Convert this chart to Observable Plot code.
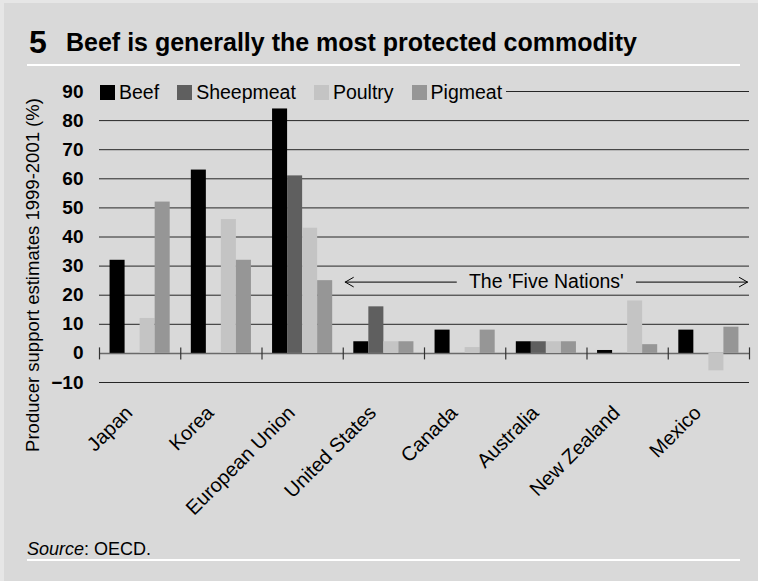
<!DOCTYPE html>
<html>
<head>
<meta charset="utf-8">
<script src="https://cdn.jsdelivr.net/npm/d3@7"></script>
<script src="https://cdn.jsdelivr.net/npm/@observablehq/plot@0.6"></script>
<style>
  html, body { margin: 0; padding: 0; background: #e6e6e6; }
  #page { position: relative; width: 758px; height: 581px; overflow: hidden; font-family: "Liberation Sans", Arial, sans-serif; }
  #panel { position: absolute; left: 4px; top: 3px; width: 754px; height: 578px; background: #d9d9d9; }
  .abs { position: absolute; white-space: nowrap; line-height: 1; }
  .wline { position: absolute; height: 2px; background: #ffffff; }
  #legend { position: absolute; left: 99px; top: 82px; height: 20px; display: flex; align-items: center; background: #d9d9d9; padding-right: 4px; padding-left: 1px; font-size: 19.5px; color: #000; }
  #legend .sw { width: 15px; height: 15px; margin-right: 4px; }
  #legend .it { display: flex; align-items: center; margin-right: 18px; }
  #legend .it:last-child { margin-right: 0; }
  #chart { position: absolute; left: 0; top: 0; }
</style>
</head>
<body>
<div id="page">
  <div id="panel"></div>
  <div id="chart"></div>
  <div class="abs" style="left:29px; top:26px; font-size:32px; font-weight:bold;">5</div>
  <div class="abs" style="left:66px; top:30px; font-size:25px; font-weight:bold;">Beef is generally the most protected commodity</div>
  <div class="wline" style="left:27px; top:64px; width:713px;"></div>
  <div id="legend"></div>
  <div class="abs" style="left:33px; top:275px; font-size:18.5px; transform: translate(-50%, -50%) rotate(-90deg);">Producer support estimates 1999-2001 (%)</div>
  <div class="abs" style="left:27px; top:540px; font-size:18px;"><i>Source</i>: OECD.</div>
  <div class="wline" style="left:27px; top:559px; width:713px;"></div>
</div>
<script>
const countries = ["Japan", "Korea", "European Union", "United States", "Canada", "Australia", "New Zealand", "Mexico"];
const series = ["Beef", "Sheepmeat", "Poultry", "Pigmeat"];
const beef      = [32, 63, 84,  4, 8, 4,  1,  8];
const sheepmeat = [ 0,  0, 61, 16, 0, 4,  0,  0];
const poultry   = [12, 46, 43,  4, 2, 4, 18, -6];
const pigmeat   = [52, 32, 25,  4, 8, 4,  3,  9];
const seriesColors = ["#000000", "#5f5f5f", "#c4c4c4", "#969696"];
const yTicks = [-10, 0, 10, 20, 30, 40, 50, 60, 70, 80, 90];
const annotation = { text: "The 'Five Nations'", from: "United States", to: "Mexico", y: 24.5 };

const values = [beef, sheepmeat, poultry, pigmeat];
const rows = [];
countries.forEach((c, ci) => series.forEach((s, si) => rows.push({ country: c, ci, series: s, si, value: values[si][ci] })));

const barW = 0.185; // fraction of a category band per bar
const boundaries = countries.map((c, i) => i).concat([countries.length]);

const tickSymbol = { draw(ctx) { ctx.moveTo(0, -6); ctx.lineTo(0, 6); } };

const startIdx = countries.indexOf(annotation.from);
const endIdx = countries.indexOf(annotation.to) + 1;
const mid = (startIdx + endIdx) / 2;

const plot = Plot.plot({
  width: 758,
  height: 540,
  marginLeft: 99,
  marginRight: 9,
  marginTop: 91,
  marginBottom: 158,
  style: { background: "transparent", fontFamily: "'Liberation Sans', Arial, sans-serif", fontSize: "19px", color: "#000" },
  x: { domain: [0, countries.length], axis: null },
  y: { domain: [-10, 90], ticks: yTicks },
  color: { domain: series, range: seriesColors },
  marks: [
    Plot.ruleY(yTicks.filter(v => v !== 0), { stroke: "#262626", strokeWidth: 1 }),
    Plot.ruleY([0], { stroke: "#6a6a6a", strokeWidth: 1.5 }),
    Plot.rect(rows, {
      x1: d => d.ci + 0.5 + (d.si - 2) * barW,
      x2: d => d.ci + 0.5 + (d.si - 1) * barW,
      y1: 0,
      y2: d => d.value,
      fill: "series"
    }),
    Plot.dot(boundaries, { x: d => d, y: () => 0, symbol: tickSymbol, stroke: "#333", strokeWidth: 1.2, fill: "none" }),
    Plot.axisY({ ticks: yTicks, tickSize: 0, tickPadding: 16, fontWeight: "bold", fontSize: 19, label: null }),
    Plot.text(countries, {
      x: (d, i) => i + 0.5, y: () => -10, text: d => d,
      rotate: -45, textAnchor: "end", dx: -11, dy: 27, fontSize: 20, fill: "#000"
    }),
    Plot.arrow([annotation], { x1: () => mid, x2: () => startIdx, y1: d => d.y, y2: d => d.y, insetStart: 90, insetEnd: 2, headLength: 14, stroke: "#000", strokeWidth: 1 }),
    Plot.arrow([annotation], { x1: () => mid, x2: () => endIdx, y1: d => d.y, y2: d => d.y, insetStart: 90, insetEnd: 2, headLength: 14, stroke: "#000", strokeWidth: 1 }),
    Plot.text([annotation], { x: () => mid, y: d => d.y, text: d => d.text, fontSize: 19.5, fill: "#000" })
  ]
});
document.getElementById("chart").appendChild(plot);

const legend = document.getElementById("legend");
series.forEach((s, i) => {
  const it = document.createElement("div");
  it.className = "it";
  const sw = document.createElement("div");
  sw.className = "sw";
  sw.style.background = seriesColors[i];
  const t = document.createElement("span");
  t.textContent = s;
  it.appendChild(sw);
  it.appendChild(t);
  legend.appendChild(it);
});
</script>
</body>
</html>
